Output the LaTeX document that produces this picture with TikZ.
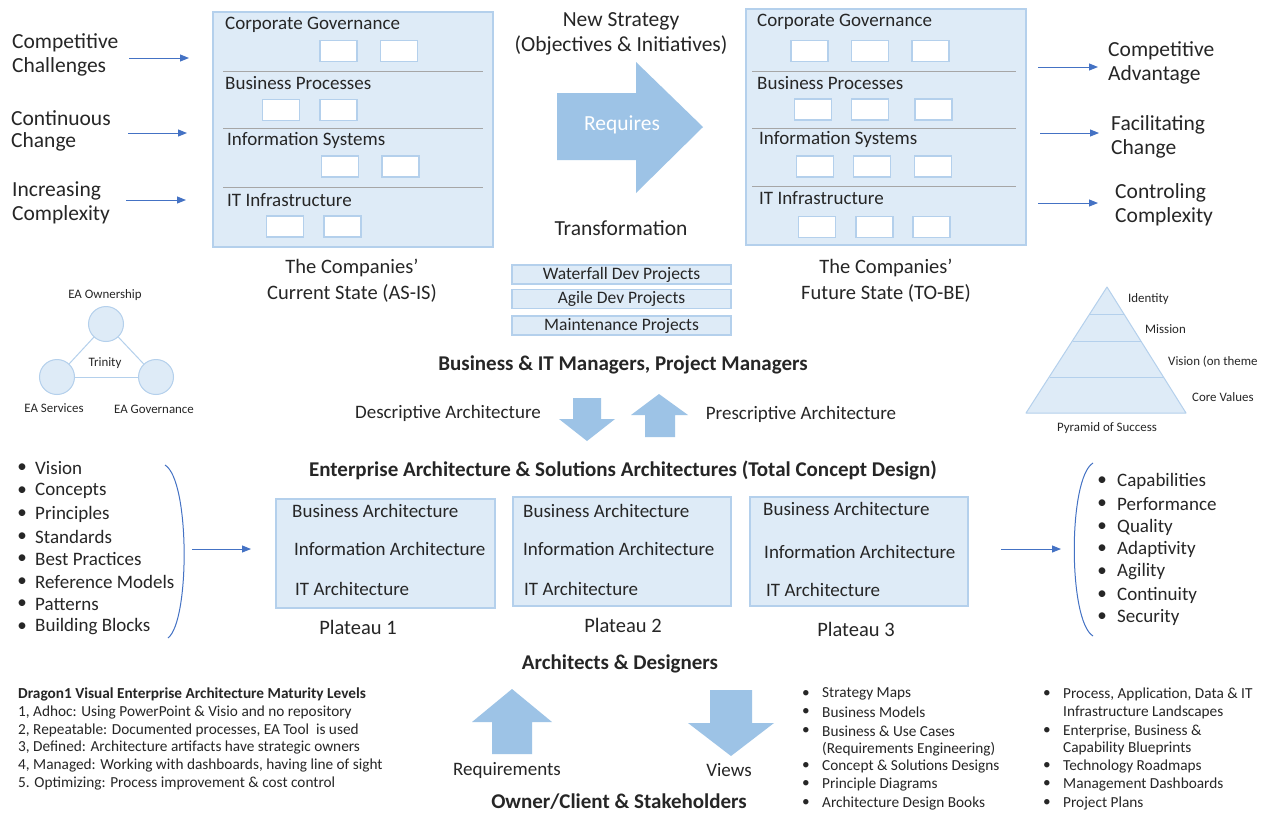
\documentclass[tikz,border=0pt]{standalone}
\usepackage{fontspec}
\setmainfont{Carlito}
\usetikzlibrary{arrows.meta}
\definecolor{boxfill}{HTML}{DEEBF7}
\definecolor{boxline}{HTML}{B4D0EC}
\definecolor{arrowfill}{HTML}{9DC3E6}
\definecolor{linkblue}{HTML}{4472C4}
\definecolor{sepgray}{HTML}{A6A6A6}
\definecolor{txtcol}{HTML}{262626}
\newcommand{\fL}{\fontsize{21.5}{25}\selectfont}
\newcommand{\fM}{\fontsize{20.5}{24}\selectfont}
\newcommand{\fH}{\fontsize{19}{23}\selectfont}
\newcommand{\fB}{\bfseries\fontsize{21}{25}\selectfont}
\newcommand{\fP}{\fontsize{17.5}{20}\selectfont}
\newcommand{\fS}{\fontsize{15.3}{18}\selectfont}
\newcommand{\fT}{\fontsize{12.9}{15}\selectfont}
\begin{document}
\begin{tikzpicture}[x=1pt,y=-1pt,
  txt/.style={inner sep=0, anchor=west, text=txtcol},
  ctr/.style={inner sep=0, text=txtcol},
  frame/.style={draw=boxline, fill=boxfill, line width=1.2pt},
  wbox/.style={draw=boxline, fill=white, line width=1.2pt, minimum width=37pt, minimum height=21pt, inner sep=0},
  projbox/.style={draw=boxline, fill=boxfill, line width=1.2pt, minimum width=219pt, minimum height=19pt, inner sep=0, text=txtcol, font=\fP},
  sepline/.style={draw=sepgray, line width=1pt},
  flow/.style={draw=linkblue, line width=1pt, -{Triangle[length=9pt,width=7pt]}},
  fat/.style={fill=arrowfill, draw=none},
  paren/.style={draw=linkblue, line width=1pt},
  light/.style={draw=boxline, fill=boxfill, line width=1pt},
  bul/.style={inner sep=0, text=txtcol}
]
\useasboundingbox[fill=white] (0,0) rectangle (1265,812);

% ---------- AS-IS box ----------
\draw[frame] (213,12) rectangle (493,247);
\draw[sepline] (223,71) -- (483,71);
\draw[sepline] (223,128) -- (483,128);
\draw[sepline] (223,187) -- (483,187);
\node[txt,font=\fH] (acg) at (225,25) {Corporate Governance};
\node[txt,font=\fH] (abp) at (225,83) {Business Processes};
\node[txt,font=\fH] (ais) at (227,140) {Information Systems};
\node[txt,font=\fH] (ait) at (227,200) {IT Infrastructure};
\foreach \px/\py [count=\i] in {338.5/51,399/51,281/110,338.5/110,340/166.5,400.5/166.5,285/226.5,342.5/226.5}
  \node[wbox] (aw\i) at (\px,\py) {};

% ---------- TO-BE box ----------
\draw[frame] (746,9) rectangle (1026,245);
\draw[sepline] (752,71) -- (1016,71);
\draw[sepline] (752,128) -- (1016,128);
\draw[sepline] (752,186) -- (1016,186);
\node[txt,font=\fH] (bcg) at (757,22) {Corporate Governance};
\node[txt,font=\fH] (bbp) at (757,83) {Business Processes};
\node[txt,font=\fH] (bis) at (759,139) {Information Systems};
\node[txt,font=\fH] (bit) at (759,198) {IT Infrastructure};
\foreach \px/\py [count=\i] in {809.5/51,870/51,930.5/51,813/109.5,870/109.5,933.5/109.5,815/166.5,872/166.5,933/166.5,817/227,874.5/227,931.5/227}
  \node[wbox] (bw\i) at (\px,\py) {};

% ---------- left drivers ----------
\node[txt,font=\fL] (l1a) at (12,43) {Competitive};
\node[txt,font=\fL] (l1b) at (12,67) {Challenges};
\node[txt,font=\fL] (l2a) at (11,118) {Continuous};
\node[txt,font=\fL] (l2b) at (11,142) {Change};
\node[txt,font=\fL] (l3a) at (12,191) {Increasing};
\node[txt,font=\fL] (l3b) at (12,215) {Complexity};
\coordinate (l1s) at (129,58); \coordinate (l1e) at (189,58);
\coordinate (l2s) at (128,133); \coordinate (l2e) at (187,133);
\coordinate (l3s) at (126,200); \coordinate (l3e) at (186,200);
\draw[flow] (l1s) -- (l1e);
\draw[flow] (l2s) -- (l2e);
\draw[flow] (l3s) -- (l3e);

% ---------- right outcomes ----------
\node[txt,font=\fL] (r1a) at (1108,51) {Competitive};
\node[txt,font=\fL] (r1b) at (1108,75) {Advantage};
\node[txt,font=\fL] (r2a) at (1111,125) {Facilitating};
\node[txt,font=\fL] (r2b) at (1111,149) {Change};
\node[txt,font=\fL] (r3a) at (1115,193) {Controling};
\node[txt,font=\fL] (r3b) at (1115,217) {Complexity};
\coordinate (r1s) at (1038,67); \coordinate (r1e) at (1098,67);
\coordinate (r2s) at (1040,133); \coordinate (r2e) at (1099,133);
\coordinate (r3s) at (1038,203); \coordinate (r3e) at (1098,203);
\draw[flow] (r1s) -- (r1e);
\draw[flow] (r2s) -- (r2e);
\draw[flow] (r3s) -- (r3e);

% ---------- centre top ----------
\node[ctr,font=\fL] (ns1) at (621,21) {New Strategy};
\node[ctr,font=\fL] (ns2) at (621,45) {(Objectives \& Initiatives)};
\fill[fat] (557,93) -- (636,93) -- (636,62) -- (703,127) -- (636,193) -- (636,160) -- (557,160) -- cycle;
\node[inner sep=0, text=white, font=\fL] (req) at (622,125) {Requires};
\node[ctr,font=\fL] (trans) at (621,228) {Transformation};

\node[ctr,font=\fM] (cs1) at (352,268) {The Companies'};
\node[ctr,font=\fM] (cs2) at (352,293) {Current State (AS-IS)};
\node[ctr,font=\fM] (fs1) at (886,268) {The Companies'};
\node[ctr,font=\fM] (fs2) at (886,293) {Future State (TO-BE)};

\node[projbox] (p1) at (621.5,274.5) {Waterfall Dev Projects};
\node[projbox] (p2) at (621.5,299) {Agile Dev Projects};
\node[projbox] (p3) at (621.5,325.5) {Maintenance Projects};

% ---------- trinity ----------
\node[light, circle, minimum size=35pt, inner sep=0] (own) at (106,324) {};
\node[light, circle, minimum size=35pt, inner sep=0] (srv) at (57,377) {};
\node[light, circle, minimum size=35pt, inner sep=0] (gov) at (156,377) {};
\draw[draw=boxline, line width=1pt] (own) -- (srv);
\draw[draw=boxline, line width=1pt] (own) -- (gov);
\draw[draw=boxline, line width=1pt] (srv) -- (gov);
\node[ctr,font=\fT] (townl) at (105,295) {EA Ownership};
\node[ctr,font=\fT] (ttri) at (105,363) {Trinity};
\node[ctr,font=\fT] (tsrv) at (54,408) {EA Services};
\node[ctr,font=\fT] (tgov) at (154,409) {EA Governance};

% ---------- pyramid ----------
\draw[light, line join=round] (1107,287) -- (1186,413) -- (1026,413) -- cycle;
\draw[draw=boxline, line width=1pt] (1090,314) -- (1124,314);
\draw[draw=boxline, line width=1pt] (1072.7,341) -- (1141.3,341);
\draw[draw=boxline, line width=1pt] (1049.9,377) -- (1164.1,377);
\node[txt,font=\fT] (pid) at (1128,299) {Identity};
\node[txt,font=\fT] (pmi) at (1145,329) {Mission};
\node[txt,font=\fT] (pvi) at (1168,362) {Vision (on theme};
\node[txt,font=\fT] (pcv) at (1192,397) {Core Values};
\node[ctr,font=\fT] (pps) at (1107,428) {Pyramid of Success};

% ---------- managers / architecture ----------
\node[ctr,font=\fB] (mgr) at (623,365) {Business \& IT Managers, Project Managers};
\node[ctr,font=\fH] (desc) at (448,413) {Descriptive Architecture};
\node[ctr,font=\fH] (pres) at (801,414) {Prescriptive Architecture};
\fill[fat] (573,398) -- (601,398) -- (601,419) -- (615,419) -- (587,441) -- (559,419) -- (573,419) -- cycle;
\fill[fat] (645,437) -- (675,437) -- (675,415) -- (688,415) -- (659,394) -- (631,415) -- (645,415) -- cycle;
\node[ctr,font=\fB] (ea) at (623,470) {Enterprise Architecture \& Solutions Architectures (Total Concept Design)};

% ---------- left list ----------
\foreach \t/\py [count=\i] in {Vision/468,Concepts/491,Principles/514,Standards/537,Best Practices/559,Reference Models/582,Patterns/604,Building Blocks/627}{
  \node[bul,font=\fH] (lb\i) at (22,\py) {\textbullet};
  \node[txt,font=\fH] (lt\i) at (35,\py) {\t};
}
\draw[paren] (165,465) .. controls (190,480) and (190,621) .. (168,638);
\coordinate (lls) at (192,549); \coordinate (lle) at (251,549);
\draw[flow] (lls) -- (lle);

% ---------- right list ----------
\foreach \t/\py [count=\i] in {Capabilities/481,Performance/504,Quality/527,Adaptivity/549,Agility/572,Continuity/595,Security/617}{
  \node[bul,font=\fH] (rb\i) at (1102,\py) {\textbullet};
  \node[txt,font=\fH] (rt\i) at (1117,\py) {\t};
}
\draw[paren] (1093,463) .. controls (1068,478) and (1068,621) .. (1093,636);
\coordinate (rls) at (1001,549); \coordinate (rle) at (1061,549);
\draw[flow] (rls) -- (rle);

% ---------- plateaus ----------
\draw[frame] (276,499) rectangle (495,608);
\node[txt,font=\fH] (a1b) at (292,511) {Business Architecture};
\node[txt,font=\fH] (a1i) at (294,549) {Information Architecture};
\node[txt,font=\fH] (a1t) at (295,589) {IT Architecture};
\node[ctr,font=\fM] (pl1) at (358,627) {Plateau 1};
\draw[frame] (513,497) rectangle (731,606);
\node[txt,font=\fH] (a2b) at (523,511) {Business Architecture};
\node[txt,font=\fH] (a2i) at (523,549) {Information Architecture};
\node[txt,font=\fH] (a2t) at (524,589) {IT Architecture};
\node[ctr,font=\fM] (pl2) at (623,625) {Plateau 2};
\draw[frame] (750,497) rectangle (968,606);
\node[txt,font=\fH] (a3b) at (763,509) {Business Architecture};
\node[txt,font=\fH] (a3i) at (764,552) {Information Architecture};
\node[txt,font=\fH] (a3t) at (766,590) {IT Architecture};
\node[ctr,font=\fM] (pl3) at (856,629) {Plateau 3};

% ---------- bottom ----------
\node[ctr,font=\fB] (arch) at (620,664) {Architects \& Designers};
\node[txt,font=\fS\bfseries] (m0) at (18,694) {Dragon1 Visual Enterprise Architecture Maturity Levels};
\node[txt,font=\fS] (m1) at (18,712) {1, Adhoc: Using PowerPoint \& Visio and no repository};
\node[txt,font=\fS] (m2) at (18,730) {2, Repeatable: Documented processes, EA Tool\ \ is used};
\node[txt,font=\fS] (m3) at (18,747) {3, Defined: Architecture artifacts have strategic owners};
\node[txt,font=\fS] (m4) at (18,765) {4, Managed: Working with dashboards, having line of sight};
\node[txt,font=\fS] (m5) at (18,783) {5. Optimizing: Process improvement \& cost control};

\fill[fat] (492,754) -- (532,754) -- (532,722) -- (552,722) -- (512,689) -- (472,722) -- (492,722) -- cycle;
\fill[fat] (710,690) -- (752,690) -- (752,723) -- (774,723) -- (731,756) -- (688,723) -- (710,723) -- cycle;
\node[ctr,font=\fH] (reqs) at (507,770) {Requirements};
\node[ctr,font=\fH] (views) at (729,770) {Views};
\node[ctr,font=\fB] (own2) at (619,802) {Owner/Client \& Stakeholders};

\foreach \t/\py/\b [count=\i] in {Strategy Maps/694/1,Business Models/712/1,Business \& Use Cases/731/1,(Requirements Engineering)/749/0,Concept \& Solutions Designs/766/1,Principle Diagrams/784/1,Architecture Design Books/803/1}{
  \ifnum\b=1 \node[bul,font=\fS] (vb\i) at (806,\py) {\textbullet}; \fi
  \node[txt,font=\fS] (vt\i) at (822,\py) {\t};
}
\foreach \t/\py/\b [count=\i] in {{Process, Application, Data \& IT}/694/1,Infrastructure Landscapes/712/0,{Enterprise, Business \&}/731/1,Capability Blueprints/748/0,Technology Roadmaps/766/1,Management Dashboards/784/1,Project Plans/803/1}{
  \ifnum\b=1 \node[bul,font=\fS] (wb\i) at (1047,\py) {\textbullet}; \fi
  \node[txt,font=\fS] (wt\i) at (1063,\py) {\t};
}
\end{tikzpicture}
\end{document}
